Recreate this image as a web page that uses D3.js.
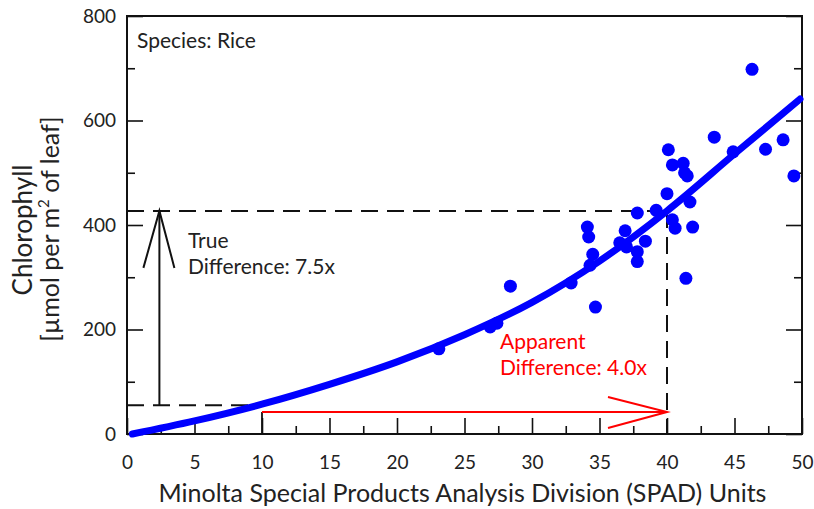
<!DOCTYPE html>
<html>
<head>
<meta charset="utf-8">
<script src="https://cdn.jsdelivr.net/npm/d3@7"></script>
<style>
  html, body { margin: 0; padding: 0; background: #fff; }
  svg { display: block; }
  text { font-family: Lato, "Open Sans", sans-serif; fill: #222; }
</style>
</head>
<body>
<svg id="chart" width="814" height="509"></svg>
<script>
// ---- data ----
const spadX = [23.1, 26.9, 27.4, 28.4, 32.9, 34.7, 34.3, 34.5, 34.1, 34.2, 36.5, 36.9, 37.0, 37.8, 37.8, 38.4, 37.8, 39.2, 40.0, 40.4, 40.6, 41.9, 41.7, 41.4, 40.1, 40.4, 41.2, 41.3, 41.5, 43.5, 44.9, 46.3, 47.3, 48.6, 49.4];
const chlY  = [163, 205, 212, 283, 289, 243, 323, 344, 396, 377, 366, 389, 358, 349, 330, 369, 423, 428, 460, 410, 394, 396, 444, 298, 544, 515, 518, 500, 494, 568, 540, 698, 545, 563, 494];

const fitX = [0.4, 5, 10, 15, 20, 25, 30, 35, 40, 45, 49.85];
const fitY = [0, 25, 57, 95, 138, 190, 252, 331, 427, 536, 641];

const xTickLabels = [0, 5, 10, 15, 20, 25, 30, 35, 40, 45, 50];
const yTickLabels = [0, 200, 400, 600, 800];
const xMinorTicks = [2.5, 7.5, 12.5, 17.5, 22.5, 27.5, 32.5, 37.5, 42.5, 47.5];
const yMinorTicks = [100, 300, 500, 700];

// annotation values
const trueLow = 55, trueHigh = 427, trueArrowX = 2.4;
const appLowX = 10, appHighX = 40, appArrowY = 42;

// ---- layout ----
const svg = d3.select("#chart");
const L = 127, R = 802, T = 16, B = 434;
const x = d3.scaleLinear().domain([0, 50]).range([L, R]);
const y = d3.scaleLinear().domain([0, 800]).range([B, T]);

const g = svg.append("g");

const majorLen = 16, minorLen = 8;
function styleAxis(sel) {
  sel.select(".domain").remove();
  sel.selectAll(".tick line").attr("stroke", "#111").attr("stroke-width", 1.6);
  sel.selectAll("text").style("font-size", "19px").attr("fill", "#222").style("font-family", "Lato, sans-serif");
}
// bottom
g.append("g").attr("transform", `translate(0,${B})`)
  .call(d3.axisBottom(x).tickValues(xTickLabels).tickSize(-majorLen).tickPadding(22).tickFormat(d3.format("d")))
  .call(styleAxis);
g.append("g").attr("transform", `translate(0,${B})`)
  .call(d3.axisBottom(x).tickValues(xMinorTicks).tickSize(-minorLen).tickFormat(""))
  .call(styleAxis);
// left
g.append("g").attr("transform", `translate(${L},0)`)
  .call(d3.axisLeft(y).tickValues(yTickLabels).tickSize(-majorLen).tickPadding(11).tickFormat(d3.format("d")))
  .call(styleAxis);
g.append("g").attr("transform", `translate(${L},0)`)
  .call(d3.axisLeft(y).tickValues(yMinorTicks).tickSize(-minorLen).tickFormat(""))
  .call(styleAxis);
// right
g.append("g").attr("transform", `translate(${R},0)`)
  .call(d3.axisRight(y).tickValues(yTickLabels).tickSize(-majorLen).tickFormat(""))
  .call(styleAxis);
g.append("g").attr("transform", `translate(${R},0)`)
  .call(d3.axisRight(y).tickValues(yMinorTicks).tickSize(-minorLen).tickFormat(""))
  .call(styleAxis);

// frame
g.append("rect").attr("x", L).attr("y", T).attr("width", R - L).attr("height", B - T)
  .attr("fill", "none").attr("stroke", "#111").attr("stroke-width", 2);

// dashed guide lines
const dash = "17,9";
g.append("line").attr("x1", L).attr("x2", x(appHighX)).attr("y1", y(trueHigh)).attr("y2", y(trueHigh))
  .attr("stroke", "#111").attr("stroke-width", 2).attr("stroke-dasharray", dash);
g.append("line").attr("x1", x(appHighX)).attr("x2", x(appHighX)).attr("y1", y(trueHigh)).attr("y2", B)
  .attr("stroke", "#111").attr("stroke-width", 2).attr("stroke-dasharray", dash);
g.append("line").attr("x1", L).attr("x2", x(appLowX)).attr("y1", y(trueLow)).attr("y2", y(trueLow))
  .attr("stroke", "#111").attr("stroke-width", 2).attr("stroke-dasharray", dash);
g.append("line").attr("x1", x(appLowX)).attr("x2", x(appLowX)).attr("y1", y(appArrowY)).attr("y2", B)
  .attr("stroke", "#111").attr("stroke-width", 1.8);

// black vertical arrow (true difference)
const ax = x(trueArrowX);
g.append("line").attr("x1", ax).attr("x2", ax).attr("y1", y(trueLow)).attr("y2", y(trueHigh))
  .attr("stroke", "#111").attr("stroke-width", 2);
g.append("path")
  .attr("d", `M${ax - 16},${y(trueHigh) + 57} L${ax},${y(trueHigh)} L${ax + 15},${y(trueHigh) + 57}`)
  .attr("fill", "none").attr("stroke", "#111").attr("stroke-width", 2);

// red horizontal arrow (apparent difference)
const ay = y(appArrowY);
g.append("line").attr("x1", x(appLowX)).attr("x2", x(appHighX)).attr("y1", ay).attr("y2", ay)
  .attr("stroke", "#ff0000").attr("stroke-width", 2);
g.append("path")
  .attr("d", `M${x(appHighX) - 59},${ay - 15} L${x(appHighX)},${ay} L${x(appHighX) - 59},${ay + 16}`)
  .attr("fill", "none").attr("stroke", "#ff0000").attr("stroke-width", 2);

// fitted curve
const pts = fitX.map((d, i) => [d, fitY[i]]);
g.append("path").datum(pts)
  .attr("d", d3.line().x(d => x(d[0])).y(d => y(d[1])).curve(d3.curveCatmullRom.alpha(0.5)))
  .attr("fill", "none").attr("stroke", "#0000ff").attr("stroke-width", 7).attr("stroke-linecap", "round");

// scatter points
g.append("g").selectAll("circle").data(spadX.map((d, i) => [d, chlY[i]])).join("circle")
  .attr("cx", d => x(d[0])).attr("cy", d => y(d[1])).attr("r", 6.5).attr("fill", "#0000ff");

// text annotations
g.append("text").attr("x", 137).attr("y", 48).style("font-size", "21px").text("Species: Rice");
g.append("text").attr("x", 188).attr("y", 248).style("font-size", "21px").text("True");
g.append("text").attr("x", 188).attr("y", 274).style("font-size", "21px").text("Difference: 7.5x");
g.append("text").attr("x", 500).attr("y", 349).style("font-size", "21px").style("fill", "#ff0000").text("Apparent");
g.append("text").attr("x", 500).attr("y", 375).style("font-size", "21px").style("fill", "#ff0000").text("Difference: 4.0x");

// axis titles
g.append("text").attr("x", (L + R) / 2 - 2).attr("y", 502).attr("text-anchor", "middle")
  .style("font-size", "25px").text("Minolta Special Products Analysis Division (SPAD) Units");

const yt = g.append("text").attr("transform", `translate(32,230) rotate(-90)`).attr("text-anchor", "middle")
  .style("font-size", "26px");
yt.append("tspan").attr("x", 0).attr("y", 0).text("Chlorophyll");
const l2 = g.append("text").attr("transform", `translate(59,229) rotate(-90)`).attr("text-anchor", "middle")
  .style("font-size", "25px");
l2.append("tspan").text("[µmol per m");
l2.append("tspan").attr("dy", -10).style("font-size", "15px").text("2");
l2.append("tspan").attr("dy", 10).text(" of leaf]");
</script>
</body>
</html>
